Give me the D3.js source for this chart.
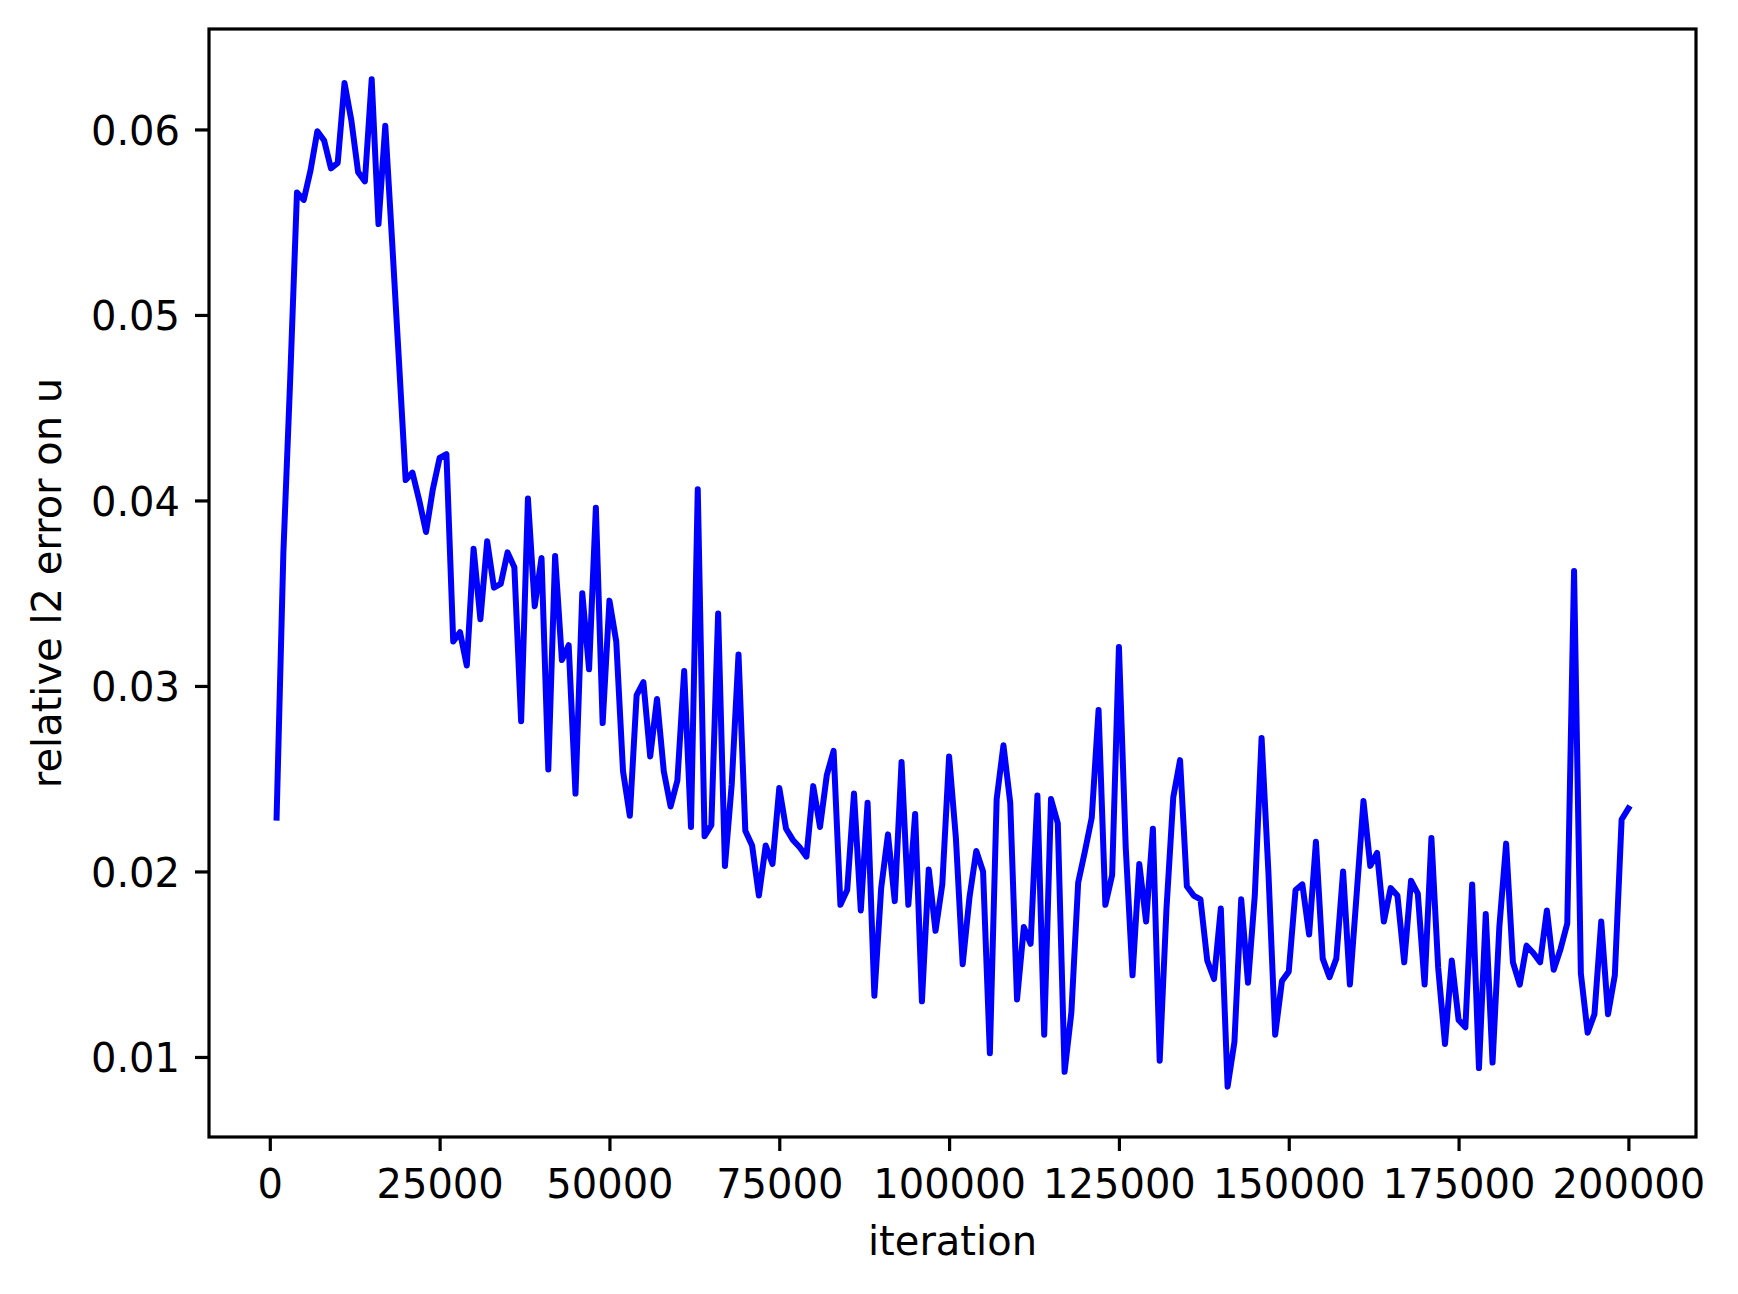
<!DOCTYPE html>
<html>
<head>
<meta charset="utf-8">
<script src="https://cdn.jsdelivr.net/npm/d3@7/dist/d3.min.js"></script>
<style>
  html, body { margin: 0; padding: 0; background: #ffffff; }
  svg { display: block; }
</style>
</head>
<body>
<svg id="chart" width="1738" height="1294"></svg>
<script>
// ---- DATA ----
const iterations = [
  1000,2000,3000,4000,5000,6000,7000,8000,9000,10000,
  11000,12000,13000,14000,15000,16000,17000,18000,19000,20000,
  21000,22000,23000,24000,25000,26000,27000,28000,29000,30000,
  31000,32000,33000,34000,35000,36000,37000,38000,39000,40000,
  41000,42000,43000,44000,45000,46000,47000,48000,49000,50000,
  51000,52000,53000,54000,55000,56000,57000,58000,59000,60000,
  61000,62000,63000,64000,65000,66000,67000,68000,69000,70000,
  71000,72000,73000,74000,75000,76000,77000,78000,79000,80000,
  81000,82000,83000,84000,85000,86000,87000,88000,89000,90000,
  91000,92000,93000,94000,95000,96000,97000,98000,99000,100000,
  101000,102000,103000,104000,105000,106000,107000,108000,109000,110000,
  111000,112000,113000,114000,115000,116000,117000,118000,119000,120000,
  121000,122000,123000,124000,125000,126000,127000,128000,129000,130000,
  131000,132000,133000,134000,135000,136000,137000,138000,139000,140000,
  141000,142000,143000,144000,145000,146000,147000,148000,149000,150000,
  151000,152000,153000,154000,155000,156000,157000,158000,159000,160000,
  161000,162000,163000,164000,165000,166000,167000,168000,169000,170000,
  171000,172000,173000,174000,175000,176000,177000,178000,179000,180000,
  181000,182000,183000,184000,185000,186000,187000,188000,189000,190000,
  191000,192000,193000,194000,195000,196000,197000,198000,199000,200000
];

const relErrorU = [
  0.0229,0.0372,0.0465,0.0566,0.0562,0.0578,0.0599,0.0594,0.0579,0.0582,
  0.0625,0.0605,0.0577,0.0572,0.0627,0.0549,0.0602,0.0540,0.0476,0.0411,
  0.0415,0.0400,0.0383,0.0406,0.0423,0.0425,0.0324,0.0329,0.0311,0.0374,
  0.0336,0.0378,0.0353,0.0355,0.0372,0.0364,0.0281,0.0401,0.0343,0.0369,
  0.0255,0.0370,0.0314,0.0322,0.0242,0.0350,0.0309,0.0396,0.0280,0.0346,
  0.0324,0.0254,0.0230,0.0295,0.0302,0.0262,0.0293,0.0254,0.0235,0.0249,
  0.0308,0.0224,0.0406,0.0219,0.0225,0.0339,0.0203,0.0247,0.0317,0.0222,
  0.0214,0.0187,0.0214,0.0204,0.0245,0.0223,0.0217,0.0213,0.0208,0.0246,
  0.0224,0.0252,0.0265,0.0182,0.0190,0.0242,0.0179,0.0237,0.0133,0.0191,
  0.0220,0.0184,0.0259,0.0182,0.0231,0.0130,0.0201,0.0168,0.0193,0.0262,
  0.0218,0.0150,0.0186,0.0211,0.0200,0.0102,0.0239,0.0268,0.0237,0.0131,
  0.0170,0.0161,0.0241,0.0112,0.0239,0.0226,0.0092,0.0124,0.0194,0.0211,
  0.0229,0.0287,0.0182,0.0198,0.0321,0.0213,0.0144,0.0204,0.0173,0.0223,
  0.0098,0.0180,0.0240,0.0260,0.0192,0.0187,0.0185,0.0152,0.0142,0.0180,
  0.0084,0.0108,0.0185,0.0140,0.0187,0.0272,0.0200,0.0112,0.0141,0.0146,
  0.0190,0.0193,0.0166,0.0216,0.0153,0.0143,0.0153,0.0200,0.0139,0.0188,
  0.0238,0.0203,0.0210,0.0173,0.0191,0.0187,0.0151,0.0195,0.0188,0.0139,
  0.0218,0.0148,0.0107,0.0152,0.0120,0.0116,0.0193,0.0094,0.0177,0.0097,
  0.0170,0.0215,0.0151,0.0139,0.0160,0.0156,0.0151,0.0179,0.0147,0.0158,
  0.0172,0.0362,0.0145,0.0113,0.0123,0.0173,0.0123,0.0144,0.0228,0.0234
];

const xTickValues = [0, 25000, 50000, 75000, 100000, 125000, 150000, 175000, 200000];
const yTickValues = [0.01, 0.02, 0.03, 0.04, 0.05, 0.06];
const xLabel = "iteration";
const yLabel = "relative l2 error on u";

// ---- LAYOUT ----
const W = 1738, H = 1294;
const plotLeft = 209, plotRight = 1696, plotTop = 29, plotBottom = 1137;
const FONT = "'DejaVu Sans', sans-serif";
const FS = 40;

const svg = d3.select("#chart");
svg.append("rect").attr("width", W).attr("height", H).attr("fill", "#ffffff");

// matplotlib-style 5% margins
function padded(ext) {
  const r = ext[1] - ext[0];
  return [ext[0] - 0.05 * r, ext[1] + 0.05 * r];
}
const x = d3.scaleLinear().domain(padded(d3.extent(iterations))).range([plotLeft, plotRight]);
const y = d3.scaleLinear().domain(padded(d3.extent(relErrorU))).range([plotBottom, plotTop]);

const data = iterations.map((it, i) => ({ it, v: relErrorU[i] }));

// line
const line = d3.line().x(d => x(d.it)).y(d => y(d.v));
svg.append("path")
  .datum(data)
  .attr("d", line)
  .attr("fill", "none")
  .attr("stroke", "#0000ff")
  .attr("stroke-width", 6)
  .attr("stroke-linejoin", "round")
  .attr("stroke-linecap", "square");

// axes
const xAxis = d3.axisBottom(x).tickValues(xTickValues).tickSize(14).tickPadding(19)
  .tickFormat(d3.format("d"));
const gx = svg.append("g").attr("transform", `translate(0,${plotBottom})`).call(xAxis);

const yAxis = d3.axisLeft(y).tickValues(yTickValues).tickSize(14).tickPadding(15)
  .tickFormat(d3.format(".2f"));
const gy = svg.append("g").attr("transform", `translate(${plotLeft},0)`).call(yAxis);

[gx, gy].forEach(g => {
  g.select(".domain").remove();
  g.selectAll(".tick line").attr("stroke", "#000").attr("stroke-width", 3.2);
  g.selectAll(".tick text")
    .attr("fill", "#000")
    .style("font-family", FONT)
    .style("font-size", FS + "px");
});
gy.selectAll(".tick text").attr("dy", "0.365em");

// frame
svg.append("rect")
  .attr("x", plotLeft).attr("y", plotTop)
  .attr("width", plotRight - plotLeft).attr("height", plotBottom - plotTop)
  .attr("fill", "none").attr("stroke", "#000").attr("stroke-width", 3.2);

// labels
svg.append("text")
  .attr("x", (plotLeft + plotRight) / 2).attr("y", 1255)
  .attr("text-anchor", "middle")
  .style("font-family", FONT).style("font-size", FS + "px")
  .attr("fill", "#000")
  .text(xLabel);

svg.append("text")
  .attr("transform", `translate(61,${(plotTop + plotBottom) / 2}) rotate(-90)`)
  .attr("text-anchor", "middle")
  .style("font-family", FONT).style("font-size", FS + "px")
  .attr("fill", "#000")
  .text(yLabel);
</script>
</body>
</html>
